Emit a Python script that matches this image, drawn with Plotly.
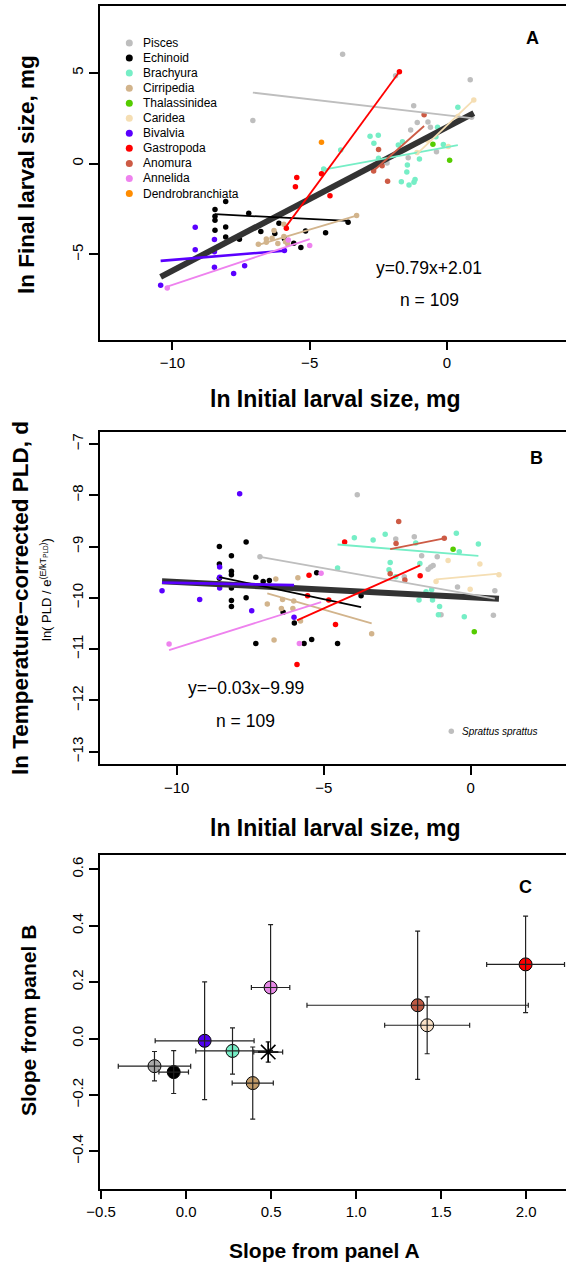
import plotly.graph_objects as go

W, H = 566, 1265
FONT = "Liberation Sans, Arial, sans-serif"

# ---------------- data ----------------
GROUPS = ["Pisces", "Echinoid", "Brachyura", "Cirripedia", "Thalassinidea", "Caridea",
          "Bivalvia", "Gastropoda", "Anomura", "Annelida", "Dendrobranchiata"]
COLORS = ["#BEBEBE", "#000000", "#76EEC6", "#D2B48C", "#55CC00", "#F5DEB3",
          "#5A00FF", "#FF0000", "#CD5B45", "#EE82EE", "#FF8C00"]

# Panel A: (ln initial size, ln final size)
A_PISCES = [(-7.07, 2.38), (-3.80, 6.03), (-1.87, 4.84), (0.85, 4.62), (-1.21, 3.19), (-1.08, 2.27),
            (-0.69, 2.29), (-0.60, 2.01), (-1.32, 1.85), (0.90, 2.55), (-1.41, 0.32), (-2.18, 0.04),
            (-0.38, 0.66)]
A_ECHINOID = [(-8.45, -2.52), (-8.45, -2.90), (-8.45, -3.12), (-8.45, -3.66), (-8.06, -2.08),
              (-8.06, -3.49), (-8.06, -4.04), (-7.22, -2.73), (-7.56, -4.16), (-6.78, -3.73),
              (-6.27, -3.84), (-6.12, -3.28), (-5.92, -4.14), (-5.58, -4.38), (-5.32, -4.62),
              (-5.15, -3.70), (-4.42, -3.80), (-3.60, -3.22)]
A_BRACHYURA = [(0.40, 3.10), (-2.80, 1.51), (-2.50, 1.56), (-2.66, 1.13), (-3.87, 0.75), (-1.77, 1.03),
               (-1.62, 1.20), (-0.34, 2.01), (-0.13, 1.05), (-0.40, 1.48), (-1.00, 0.26), (-1.44, -0.08),
               (-1.46, -0.46), (-1.66, -1.00), (-1.38, -1.17), (-1.20, -1.02), (-1.16, -0.87),
               (-2.49, 0.30), (-4.49, -0.30)]
A_CIRRIPEDIA = [(-6.87, -4.44), (-6.58, -4.15), (-6.58, -4.33), (-6.37, -4.11), (-6.30, -3.68),
                (-6.16, -4.39), (-5.94, -4.01), (-5.88, -4.30), (-5.80, -4.42), (-5.94, -3.34),
                (-3.29, -2.86)]
A_THALASSINIDEA = [(-0.51, 1.07), (0.10, 0.19)]
A_CARIDEA = [(-1.09, 0.62), (-0.72, 1.30), (0.05, 0.95), (0.40, 2.60), (0.98, 3.51)]
A_BIVALVIA = [(-10.43, -6.70), (-9.17, -3.50), (-9.17, -4.74), (-8.47, -4.18), (-8.47, -4.85),
              (-8.47, -5.70), (-7.77, -6.05), (-7.37, -5.62), (-5.92, -4.78)]
A_GASTROPODA = [(-1.73, 5.06), (-5.47, -0.76), (-5.52, -1.27), (-4.57, -0.55), (-4.26, -1.77),
                (-5.85, -3.55)]
A_ANOMURA = [(-2.67, -0.40), (-2.49, 0.78), (-2.36, -0.11), (-2.16, -0.97), (-0.83, 2.69)]
A_ANNELIDA = [(-10.19, -6.84), (-5.78, -4.20), (-5.00, -4.50)]
A_DENDRO = [(-4.57, 1.18)]

# Panel B: (ln initial size, ln temperature-corrected PLD)
B_PISCES = [(-7.17, -9.20), (-3.86, -7.99), (-2.55, -8.85), (-1.92, -8.81), (-1.14, -9.20),
            (-1.67, -9.18), (-1.45, -9.44), (-1.36, -9.40), (-1.28, -9.37), (-2.26, -9.59),
            (-0.45, -9.79), (0.82, -9.86), (-1.01, -10.33), (0.77, -10.34)]
B_ECHINOID = [(-8.55, -9.00), (-8.55, -9.34), (-8.55, -9.62), (-8.14, -9.18), (-8.14, -9.48),
              (-8.14, -9.55), (-8.14, -9.81), (-8.14, -10.05), (-8.14, -10.17), (-7.64, -8.91),
              (-7.64, -10.00), (-7.31, -9.60), (-7.06, -9.68), (-6.85, -9.66), (-6.38, -10.28),
              (-6.00, -10.49), (-7.31, -10.89), (-5.67, -10.89), (-5.41, -10.81), (-4.53, -10.89),
              (-5.24, -9.51), (-3.73, -9.96)]
B_BRACHYURA = [(-3.96, -8.83), (-3.32, -8.87), (-2.91, -8.76), (-1.87, -8.93), (-0.49, -8.74),
               (0.26, -8.95), (-0.39, -9.10), (-2.74, -9.31), (-2.78, -9.45), (-2.55, -9.59),
               (-1.73, -9.33), (-4.53, -9.42), (-1.52, -9.88), (-1.33, -9.84), (-1.76, -10.04),
               (-1.30, -10.04), (-1.06, -10.17), (-1.10, -10.33), (-0.22, -10.37)]
B_CIRRIPEDIA = [(-6.63, -9.63), (-5.88, -9.61), (-6.92, -10.12), (-6.40, -10.03), (-6.44, -10.21),
                (-6.02, -10.06), (-6.05, -10.21), (-5.79, -10.45), (-6.69, -10.82), (-3.37, -10.70)]
B_THALASSINIDEA = [(-0.60, -9.05), (0.12, -10.66)]
B_CARIDEA = [(-1.18, -9.68), (-0.77, -9.27), (-0.02, -9.83), (0.31, -9.34), (0.96, -9.55)]
B_BIVALVIA = [(-10.50, -9.86), (-9.22, -10.03), (-8.54, -9.40), (-8.54, -9.60), (-8.54, -9.81),
              (-7.86, -7.97), (-7.45, -10.25), (-6.01, -10.38)]
B_GASTROPODA = [(-4.29, -8.91), (-5.50, -9.56), (-4.60, -10.52), (-5.91, -11.30), (-5.55, -9.96),
                (-4.83, -10.04), (-1.72, -9.57)]
B_ANOMURA = [(-2.74, -9.53), (-2.54, -8.94), (-2.45, -8.51), (-2.24, -9.65), (-0.90, -8.84)]
B_ANNELIDA = [(-10.26, -10.90), (-5.83, -10.89), (-5.09, -9.52)]
B_DENDRO = []

# Group regression lines (slope, intercept); None = no line
A_LINES = [(-0.176, 2.668), (-0.076, -3.425), (0.276, 0.909), (0.452, -1.371), None, (1.435, 2.104),
           (0.124, -4.057), (2.063, 8.629), (1.339, 3.185), (0.505, -1.625), None]
B_LINES = [(-0.102, -9.931), (-0.122, -10.637), (-0.046, -9.168), (-0.165, -11.055), None,
           (0.053, -9.578), (-0.011, -9.818), (0.256, -8.927), (0.114, -8.737), (0.181, -9.163), None]
A_OVERALL = (0.79, 2.01)
B_OVERALL = (-0.03, -9.99)
N_TOTAL = 109

# Panel C: group slopes with error ranges
C_GROUPS = ["Pisces", "Echinoid", "Brachyura", "Cirripedia", "Caridea", "Bivalvia",
            "Gastropoda", "Anomura", "Annelida"]
C_COLORS = ["#A8A8A8", "#000000", "#76EEC6", "#C09A68", "#FAE1C6", "#5000F0",
            "#FF0000", "#BC5A44", "#E68AE6"]
SLOPE_A = [-0.186, -0.073, 0.273, 0.392, 1.418, 0.109, 1.997, 1.362, 0.497]
SLOPE_A_ERR = [0.213, 0.087, 0.216, 0.121, 0.250, 0.291, 0.229, 0.651, 0.113]
SLOPE_B = [-0.098, -0.119, -0.044, -0.158, 0.047, -0.008, 0.263, 0.118, 0.181]
SLOPE_B_ERR = [0.052, 0.076, 0.082, 0.128, 0.101, 0.209, 0.171, 0.263, 0.223]
MEAN_A, MEAN_A_ERR = 0.483, 0.085
MEAN_B, MEAN_B_ERR = -0.048, 0.036

A_DATA = [A_PISCES, A_ECHINOID, A_BRACHYURA, A_CIRRIPEDIA, A_THALASSINIDEA, A_CARIDEA,
          A_BIVALVIA, A_GASTROPODA, A_ANOMURA, A_ANNELIDA, A_DENDRO]
B_DATA = [B_PISCES, B_ECHINOID, B_BRACHYURA, B_CIRRIPEDIA, B_THALASSINIDEA, B_CARIDEA,
          B_BIVALVIA, B_GASTROPODA, B_ANOMURA, B_ANNELIDA, B_DENDRO]

# ---------------- figure ----------------
fig = go.Figure()


def fx(px):
    return px / W


def fy(py):
    return 1 - py / H


def add_panel(data, lines, overall, xa, ya):
    for pts, col in zip(data, COLORS):
        if not pts:
            continue
        fig.add_trace(go.Scatter(x=[p[0] for p in pts], y=[p[1] for p in pts], mode="markers",
                                 marker=dict(size=5.5, color=col, line=dict(width=0)),
                                 xaxis=xa, yaxis=ya, showlegend=False, hoverinfo="skip"))
    allx = [p[0] for pts in data for p in pts]
    m, b = overall
    x0, x1 = min(allx), max(allx)
    fig.add_trace(go.Scatter(x=[x0, x1], y=[m * x0 + b, m * x1 + b], mode="lines",
                             line=dict(color="#333333", width=6), xaxis=xa, yaxis=ya,
                             showlegend=False, hoverinfo="skip"))
    for pts, ln, col in zip(data, lines, COLORS):
        if ln is None or not pts:
            continue
        m, b = ln
        xs = [p[0] for p in pts]
        x0, x1 = min(xs), max(xs)
        w = 2.6 if col == "#5A00FF" else 1.8
        fig.add_trace(go.Scatter(x=[x0, x1], y=[m * x0 + b, m * x1 + b], mode="lines",
                                 line=dict(color=col, width=w), xaxis=xa, yaxis=ya,
                                 showlegend=False, hoverinfo="skip"))


add_panel(A_DATA, A_LINES, A_OVERALL, "x", "y")
add_panel(B_DATA, B_LINES, B_OVERALL, "x2", "y2")

# Panel C: circles, then error bars drawn on top
fig.add_trace(go.Scatter(x=SLOPE_A, y=SLOPE_B, mode="markers",
                         marker=dict(size=13, color=C_COLORS, line=dict(color="black", width=1)),
                         xaxis="x3", yaxis="y3", showlegend=False, hoverinfo="skip"))
fig.add_trace(go.Scatter(x=SLOPE_A, y=SLOPE_B, mode="markers",
                         marker=dict(size=2, color="rgba(0,0,0,0)"),
                         error_x=dict(type="data", array=SLOPE_A_ERR, color="#222222", thickness=1.2, width=2.5),
                         error_y=dict(type="data", array=SLOPE_B_ERR, color="#222222", thickness=1.2, width=2.5),
                         xaxis="x3", yaxis="y3", showlegend=False, hoverinfo="skip"))
fig.add_trace(go.Scatter(x=[MEAN_A], y=[MEAN_B], mode="markers",
                         marker=dict(symbol="asterisk-open", size=17, color="black", line=dict(color="black", width=1.6)),
                         error_x=dict(type="data", array=[MEAN_A_ERR], color="#222222", thickness=1.2, width=2.5),
                         error_y=dict(type="data", array=[MEAN_B_ERR], color="#222222", thickness=1.2, width=2.5),
                         xaxis="x3", yaxis="y3", showlegend=False, hoverinfo="skip"))

# Legend (panel A) on a pixel overlay axis
LEG_X, LEG_Y0, LEG_DY = 129.3, 43.0, 15.05
fig.add_trace(go.Scatter(x=[LEG_X] * len(GROUPS), y=[LEG_Y0 + LEG_DY * i for i in range(len(GROUPS))],
                         mode="markers", marker=dict(size=7, color=COLORS, line=dict(width=0)),
                         xaxis="x4", yaxis="y4", showlegend=False, hoverinfo="skip"))
fig.add_trace(go.Scatter(x=[451.3], y=[731.3], mode="markers",
                         marker=dict(size=5.5, color=COLORS[0], line=dict(width=0)),
                         xaxis="x4", yaxis="y4", showlegend=False, hoverinfo="skip"))

ann = []
for i, g in enumerate(GROUPS):
    ann.append(dict(x=140.5, y=LEG_Y0 + LEG_DY * i, xref="x4", yref="y4", text=g, showarrow=False,
                    xanchor="left", yanchor="middle", font=dict(family=FONT, size=12, color="black")))
ann.append(dict(x=460, y=731.3, xref="x4", yref="y4", text="<i>Sprattus sprattus</i>", showarrow=False,
                xanchor="left", yanchor="middle", font=dict(family=FONT, size=10, color="black")))


def T(x, y, text, size, angle=0, bold=False, anchor="center"):
    ann.append(dict(x=x, y=y, xref="x4", yref="y4", text=("<b>%s</b>" % text) if bold else text,
                    showarrow=False, xanchor=anchor, yanchor="middle", textangle=angle,
                    font=dict(family=FONT, size=size, color="black")))


def fmt(v):
    return ("%.2f" % v).replace("-", "\u2212")


def eq(m, b):
    return "y=" + fmt(m) + "x" + ("+" if b >= 0 else "") + fmt(b)


T(532, 38, "A", 18, bold=True)
T(536, 458, "B", 18, bold=True)
T(525, 887, "C", 18, bold=True)
T(429, 267.5, eq(*A_OVERALL), 17.5)
T(429.5, 300, "n = %d" % N_TOTAL, 17.5)
T(245.5, 687.6, eq(*B_OVERALL), 17.5)
T(245.3, 720.5, "n = %d" % N_TOTAL, 17.5)

T(335, 399, "ln Initial larval size, mg", 23, bold=True)
T(335, 828, "ln Initial larval size, mg", 23, bold=True)
T(324, 1250, "Slope from panel A", 21, bold=True)
T(26, 175, "ln Final larval size, mg", 22.5, angle=-90, bold=True)
T(20, 598, "ln Temperature\u2212corrected PLD, d", 22.5, angle=-90, bold=True)
T(46, 590, "ln( PLD / e<sup>(E/kT<sub>PLD</sub>)</sup>)", 13, angle=-90)
T(28, 1021, "Slope from panel B", 21, angle=-90, bold=True)

base = dict(showgrid=False, zeroline=False, showline=True, linecolor="black", linewidth=1.5,
            ticks="outside", ticklen=9, tickwidth=1.5, tickcolor="black", automargin=False,
            tickfont=dict(family=FONT, size=15, color="black"))


def labels(vals, dec=0):
    return [(("%." + str(dec) + "f") % v).replace("-", "\u2212") for v in vals]


XT_A = [-10, -5, 0]
YT_A = [-5, 0, 5]
YT_B = [-13, -12, -11, -10, -9, -8, -7]
XT_C = [-0.5, 0.0, 0.5, 1.0, 1.5, 2.0]
YT_C = [-0.4, -0.2, 0.0, 0.2, 0.4, 0.6]

fig.update_layout(
    width=W, height=H, margin=dict(l=0, r=0, t=0, b=0, autoexpand=False),
    paper_bgcolor="white", plot_bgcolor="rgba(0,0,0,0)", showlegend=False,
    xaxis=dict(base, domain=[fx(100), 1], range=[-12.64, 4.34], anchor="y", mirror=True,
               tickvals=XT_A, ticktext=labels(XT_A)),
    yaxis=dict(base, domain=[fy(339.5), fy(6)], range=[-9.68, 8.68], anchor="x",
               tickvals=YT_A, ticktext=labels(YT_A), tickangle=-90),
    xaxis2=dict(base, domain=[fx(100), 1], range=[-12.61, 3.24], anchor="y2", mirror=True,
                tickvals=XT_A, ticktext=labels(XT_A)),
    yaxis2=dict(base, domain=[fy(764), fy(431.7)], range=[-13.24, -6.76], anchor="x2",
                tickvals=YT_B, ticktext=labels(YT_B), tickangle=-90),
    xaxis3=dict(base, domain=[fx(100), 1], range=[-0.5065, 2.2347], anchor="y3", mirror=True,
                tickvals=XT_C, ticktext=labels(XT_C, 1)),
    yaxis3=dict(base, domain=[fy(1188.5), fy(855)], range=[-0.532, 0.651], anchor="x3",
                tickvals=YT_C, ticktext=labels(YT_C, 1), tickangle=-90),
    xaxis4=dict(domain=[0, 1], range=[0, W], visible=False, anchor="y4", automargin=False),
    yaxis4=dict(domain=[0, 1], range=[H, 0], visible=False, anchor="x4", automargin=False),
    annotations=ann,
)

fig.write_html("out.html")
